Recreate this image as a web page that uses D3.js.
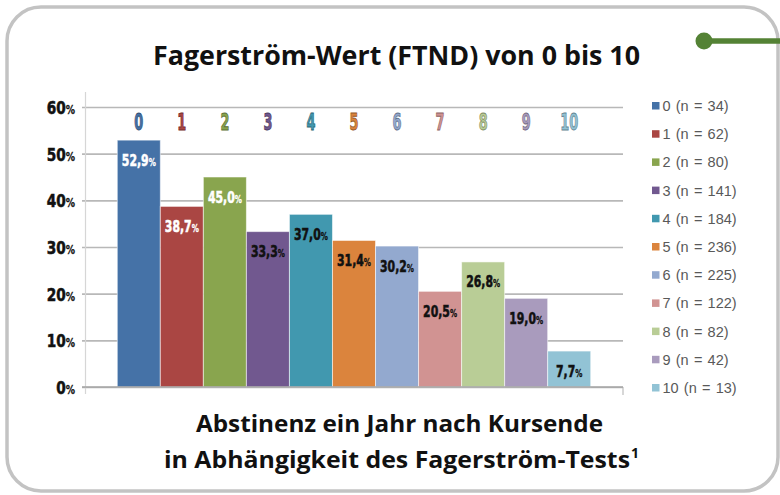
<!DOCTYPE html>
<html>
<head>
<meta charset="utf-8">
<script src="https://cdn.jsdelivr.net/npm/d3@7"></script>
<style>
  html, body { margin: 0; padding: 0; background: #fff; }
  svg { display: block; }
</style>
</head>
<body>
<svg id="chart" width="780" height="495"></svg>
<script>
// FTND score groups, abstinence rate one year after the course, group sizes
const categories = ["0", "1", "2", "3", "4", "5", "6", "7", "8", "9", "10"];
const abstinence = [52.9, 38.7, 45.0, 33.3, 37.0, 31.4, 30.2, 20.5, 26.8, 19.0, 7.7];
const groupSizes = [34, 62, 80, 141, 184, 236, 225, 122, 82, 42, 13];
const barColors = ["#4572A7", "#AA4643", "#89A54E", "#71588F", "#4198AF", "#DB843D",
                   "#93A9CF", "#D19392", "#B9CD96", "#A99BBD", "#92C3D5"];
const labelColors = ["#fff", "#fff", "#fff", "#111", "#111", "#111", "#111", "#111", "#111", "#111", "#111"];
const yTicks = [0, 10, 20, 30, 40, 50, 60];
const title = "Fagerström-Wert (FTND) von 0 bis 10";
const captionLines = ["Abstinenz ein Jahr nach Kursende", "in Abhängigkeit des Fagerström-Tests"];

const svg = d3.select("#chart");

// rounded frame
svg.append("rect")
  .attr("x", 7).attr("y", 7).attr("width", 771).attr("height", 484)
  .attr("rx", 34).attr("ry", 34)
  .attr("fill", "#fff").attr("stroke", "#c3c3c3").attr("stroke-width", 3.5);

// green connector in the upper right
svg.append("line")
  .attr("x1", 704).attr("y1", 41).attr("x2", 780).attr("y2", 41)
  .attr("stroke", "#548235").attr("stroke-width", 5.5);
svg.append("circle")
  .attr("cx", 704).attr("cy", 41).attr("r", 8.5).attr("fill", "#548235");

// title
svg.append("text")
  .attr("x", 153).attr("y", 65)
  .attr("textLength", 487).attr("lengthAdjust", "spacingAndGlyphs")
  .attr("font-family", "'Open Sans', 'Noto Sans', sans-serif")
  .attr("font-weight", 700).attr("font-size", 26).attr("fill", "#111")
  .text(title);

// scales
const x = d3.scaleBand().domain(categories).range([85, 623]).paddingInner(0).paddingOuter(0.75);
const y = d3.scaleLinear().domain([0, 60]).range([387, 107]);

// gridlines via axis
const grid = svg.append("g")
  .attr("transform", "translate(82,0)")
  .call(d3.axisRight(y).tickValues(yTicks).tickSize(623 - 82).tickFormat(""));
grid.select(".domain").remove();
grid.selectAll(".tick line").attr("stroke", "#b8b8b8").attr("stroke-width", 1.6);

// vertical axis line and right end tick
svg.append("line").attr("x1", 85.5).attr("x2", 85.5).attr("y1", 92).attr("y2", 394)
  .attr("stroke", "#d6d6d6").attr("stroke-width", 1.2);
svg.append("line").attr("x1", 623).attr("x2", 623).attr("y1", 387).attr("y2", 395)
  .attr("stroke", "#bdbdbd").attr("stroke-width", 1.2);

// heavy condensed number with a smaller percent sign
const condFont = "'DejaVu Sans', sans-serif";
function numLabel(g, tx, ty, anchor, scaleX, size, pctSize, str, fill) {
  const t = g.append("text")
    .attr("transform", `translate(${tx},${ty}) scale(${scaleX},1)`)
    .attr("text-anchor", anchor)
    .attr("font-family", condFont).attr("font-weight", 700)
    .attr("font-size", size).attr("fill", fill)
    .attr("stroke", fill).attr("stroke-width", 0.6);
  t.append("tspan").text(str);
  t.append("tspan").attr("font-size", pctSize).attr("stroke-width", 0.3).text("%");
  return t;
}

// y tick labels
const yl = svg.append("g");
yTicks.forEach(v => {
  numLabel(yl, 75, y(v) + 7, "end", 0.74, 18.5, 12.5, String(v), "#111");
});

// bars
svg.append("g").selectAll("rect")
  .data(abstinence)
  .join("rect")
  .attr("x", (d, i) => x(categories[i]))
  .attr("y", d => y(d))
  .attr("width", x.bandwidth())
  .attr("height", d => y(0) - y(d))
  .attr("fill", (d, i) => barColors[i])
  .attr("stroke", "rgba(255,255,255,0.55)")
  .attr("stroke-width", 1);

// baseline
svg.append("line").attr("x1", 82).attr("x2", 623).attr("y1", y(0)).attr("y2", y(0))
  .attr("stroke", "#a6a6a6").attr("stroke-width", 1.6);

// value labels inside bars
const vl = svg.append("g");
abstinence.forEach((v, i) => {
  const cx = x(categories[i]) + x.bandwidth() / 2;
  numLabel(vl, cx, y(v) + 25.5, "middle", 0.68, 16, 10.5, v.toFixed(1).replace(".", ","), labelColors[i]);
});

// category numbers above the bars
svg.append("g").selectAll("text")
  .data(categories)
  .join("text")
  .attr("transform", d => `translate(${x(d) + x.bandwidth() / 2},130) scale(0.56,1)`)
  .attr("text-anchor", "middle")
  .attr("font-family", condFont).attr("font-weight", 700).attr("font-size", 23)
  .attr("fill", (d, i) => barColors[i])
  .attr("stroke", (d, i) => d3.color(barColors[i]).darker(1.1))
  .attr("stroke-width", 0.9)
  .text(d => d);

// legend
const lg = svg.append("g");
categories.forEach((c, i) => {
  const cy = 106 + i * 28.2;
  lg.append("rect").attr("x", 652).attr("y", cy - 4).attr("width", 7.5).attr("height", 7.5)
    .attr("fill", barColors[i]);
  lg.append("text").attr("x", 662.5).attr("y", cy + 5)
    .attr("font-family", "'Liberation Sans', Arial, sans-serif").attr("font-size", 14.5)
    .attr("word-spacing", 1.2)
    .attr("fill", "#595959")
    .text(`${c} (n = ${groupSizes[i]})`);
});

// caption below the chart
const cap = svg.append("g")
  .attr("font-family", "'Open Sans', 'Noto Sans', sans-serif")
  .attr("font-weight", 700).attr("fill", "#111");
cap.append("text").attr("x", 196).attr("y", 432)
  .attr("font-size", 24)
  .attr("textLength", 407).attr("lengthAdjust", "spacingAndGlyphs")
  .text(captionLines[0]);
cap.append("text").attr("x", 164).attr("y", 468)
  .attr("font-size", 24)
  .attr("textLength", 466).attr("lengthAdjust", "spacingAndGlyphs")
  .text(captionLines[1]);
cap.append("text").attr("x", 631).attr("y", 458)
  .attr("font-size", 14)
  .text("1");
</script>
</body>
</html>
